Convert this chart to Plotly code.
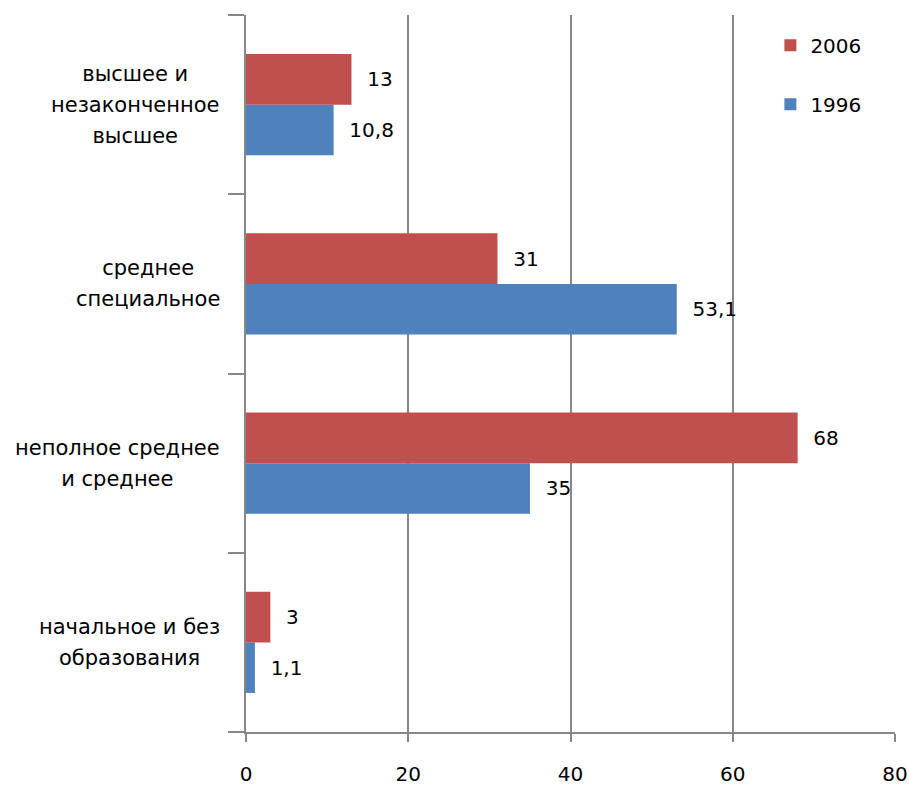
import plotly.graph_objects as go

categories = [
    "начальное и без<br>образования",
    "неполное среднее<br>и среднее",
    "среднее<br>специальное",
    "высшее и<br>незаконченное<br>высшее",
]
values_1996 = [1.1, 35, 53.1, 10.8]
values_2006 = [3, 68, 31, 13]
labels_1996 = ["1,1", "35", "53,1", "10,8"]
labels_2006 = ["3", "68", "31", "13"]
x_ticks = [0, 20, 40, 60, 80]

FONT = "DejaVu Sans"
cat_ids = list(range(len(categories)))
pad = "\u00a0\u00a0"

fig = go.Figure()
fig.add_trace(go.Bar(
    y=cat_ids, x=values_1996, orientation="h", name="1996",
    marker=dict(color="#4F81BD", line=dict(width=0)),
    text=[pad + t for t in labels_1996], textposition="outside",
    textfont=dict(family=FONT, size=20, color="#000000"),
    cliponaxis=False, legendgroup="b", legendrank=2,
))
fig.add_trace(go.Bar(
    y=cat_ids, x=values_2006, orientation="h", name="2006",
    marker=dict(color="#C0504D", line=dict(width=0)),
    text=[pad + t for t in labels_2006], textposition="outside",
    textfont=dict(family=FONT, size=20, color="#000000"),
    cliponaxis=False, legendgroup="a", legendrank=1,
))

for i, c in enumerate(categories):
    styled = "<br>".join(
        f"<span style='font-size:21px'>{ln}</span>" for ln in c.split("<br>")
    )
    fig.add_annotation(
        x=0, xref="paper", y=i, yref="y", text=styled, showarrow=False,
        xanchor="right", yanchor="middle", align="center", xshift=-24,
        font=dict(family=FONT, size=24, color="#000000"),
    )

fig.update_layout(
    width=909, height=785,
    margin=dict(l=246, r=14, t=15, b=53, autoexpand=False),
    paper_bgcolor="white", plot_bgcolor="white",
    barmode="group", bargap=0.436, bargroupgap=0,
    font=dict(family=FONT, size=20, color="#000000"),
    showlegend=True,
    legend=dict(
        x=0.808, y=0.985, xanchor="left", yanchor="top",
        traceorder="grouped", tracegroupgap=30,
        font=dict(family=FONT, size=20, color="#000000"),
        bgcolor="rgba(0,0,0,0)",
    ),
)
fig.update_xaxes(
    range=[0, 80], tickvals=x_ticks, ticktext=[str(v) for v in x_ticks],
    showgrid=True, gridcolor="#878787", gridwidth=1.5,
    showline=True, linecolor="#878787", linewidth=1.5,
    ticks="outside", ticklen=8, tickcolor="#878787", tickwidth=1.5,
    ticklabelstandoff=15, zeroline=False, automargin=False,
    ticklabeloverflow="allow",
    tickfont=dict(family=FONT, size=20, color="#000000"),
)
fig.update_yaxes(
    type="linear", range=[-0.5, 3.5],
    tickvals=[-0.5, 0.5, 1.5, 2.5, 3.5], showticklabels=False,
    showgrid=False, zeroline=False, automargin=False,
    showline=True, linecolor="#878787", linewidth=1.5,
    ticks="outside", ticklen=16, tickcolor="#878787", tickwidth=1.5,
)

fig.write_html(
    "out.html",
    config={"displayModeBar": False},
    post_script="document.body.style.margin='0px';document.body.style.overflow='hidden';",
)
